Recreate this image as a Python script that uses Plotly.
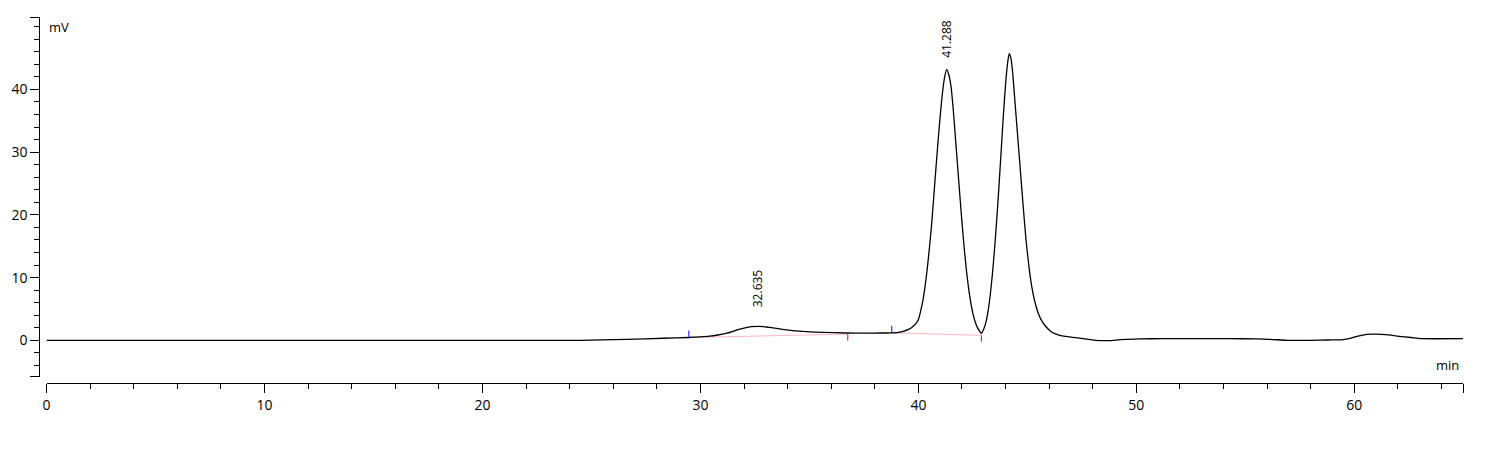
import plotly.graph_objects as go

# ---- chromatogram trace (time in min, signal in mV) ----
time_min = [0.0, 24.5, 26.6, 28.3, 29.47, 30.0, 30.42, 30.8, 31.17, 31.5, 31.77, 32.05,
            32.33, 32.64, 32.9, 33.17, 33.5, 33.77, 34.24, 34.85, 35.62, 36.67, 37.5,
            38.3, 38.78, 39.1, 39.34, 39.55, 39.7, 39.8, 39.9, 40.0, 40.1, 40.2, 40.3,
            40.4, 40.5, 40.6, 40.7, 40.8, 40.9, 41.0, 41.1, 41.2, 41.3, 41.4, 41.5,
            41.6, 41.7, 41.8, 41.9, 42.0, 42.1, 42.2, 42.3, 42.4, 42.5, 42.6, 42.7,
            42.8, 42.89, 43.0, 43.1, 43.2, 43.3, 43.4, 43.5, 43.6, 43.7, 43.8, 43.9,
            44.0, 44.1, 44.17, 44.25, 44.33, 44.45, 44.57, 44.69, 44.81, 44.94, 45.0,
            45.1, 45.2, 45.3, 45.4, 45.5, 45.6, 45.7, 45.8, 45.9, 46.0, 46.15, 46.35,
            46.6, 47.0, 47.4, 48.13, 48.8, 49.25, 50.2, 51.2, 52.7, 54.25, 55.5, 56.1,
            57.0, 58.0, 58.8, 59.5, 59.8, 60.12, 60.58, 61.0, 61.43, 62.05, 62.6, 63.1,
            65.0]
signal_mv = [0.0, 0.0, 0.15, 0.33, 0.45, 0.55, 0.66, 0.85, 1.1, 1.42, 1.75, 2.0,
             2.17, 2.22, 2.17, 2.05, 1.9, 1.75, 1.54, 1.38, 1.27, 1.17, 1.16,
             1.17, 1.2, 1.28, 1.48, 1.75, 2.05, 2.35, 2.75, 3.3, 4.6, 6.2, 8.4,
             11.2, 14.5, 18.2, 22.6, 27.2, 31.6, 35.7, 39.3, 41.9, 43.2, 42.3, 40.4,
             36.8, 32.3, 27.8, 23.2, 18.8, 14.8, 11.3, 8.4, 6.1, 4.3, 3.0, 2.1,
             1.5, 1.1, 1.8, 2.9, 4.7, 7.3, 10.7, 14.8, 19.5, 24.7, 30.3, 35.9,
             40.8, 44.4, 45.7, 44.9, 42.5, 37.2, 31.9, 26.6, 21.3, 15.95, 14.0,
             11.0, 8.6, 6.8, 5.4, 4.3, 3.5, 2.9, 2.4, 2.0, 1.65, 1.25, 0.95,
             0.7, 0.5, 0.35, 0.0, -0.05, 0.1, 0.22, 0.27, 0.27, 0.27, 0.22, 0.16,
             -0.02, 0.0, 0.05, 0.1, 0.3, 0.64, 0.96, 0.98, 0.9, 0.64, 0.45, 0.27,
             0.27]

# ---- integration: peak labels and baseline segments ----
peak_rt = [32.635, 41.288]
peak_label = ["32.635", "41.288"]
peak_height = [2.22, 43.2]
label_shift_px = [38, 31]

base_start_t = [29.47, 38.78]
base_start_v = [0.45, 1.2]
base_end_t = [36.76, 42.89]
base_end_v = [0.99, 0.8]

# ---- axes ----
x_tickvals = [0, 10, 20, 30, 40, 50, 60, 65]
x_ticktext = ["0", "10", "20", "30", "40", "50", "60", ""]
y_tickvals = [-5.8, 0, 10, 20, 30, 40, 51.5]
y_ticktext = ["", "0", "10", "20", "30", "40", ""]

FONT = "Open Sans"
TXT = "#000000"
OFF = 8  # default page body margin
W, H = 1487 - 2 * OFF, 455 - 2 * OFF
ML, MR, MT, MB = 12, 6, 2, 42
PW, PH = W - ML - MR, H - MT - MB


def px_x(p):
    return (p - OFF - ML) / PW


def px_y(p):
    return (H - MB - (p - OFF)) / PH


fig = go.Figure()

# baselines (pink)
for i in range(len(base_start_t)):
    fig.add_trace(go.Scatter(x=[base_start_t[i], base_end_t[i]],
                             y=[base_start_v[i], base_end_v[i]],
                             mode="lines", line=dict(color="#ffb6c1", width=1),
                             hoverinfo="skip", showlegend=False))

fig.add_trace(go.Scatter(x=time_min, y=signal_mv, mode="lines",
                         line=dict(color="black", width=1.3, shape="spline", smoothing=0.5),
                         showlegend=False))

shapes = []
for t, v in zip(base_start_t, base_start_v):
    shapes.append(dict(type="line", xref="x", yref="y", ysizemode="pixel", yanchor=v,
                       x0=t, x1=t, y0=0, y1=7, line=dict(color="blue", width=1)))
for t, v in zip(base_end_t, base_end_v):
    shapes.append(dict(type="line", xref="x", yref="y", ysizemode="pixel", yanchor=v,
                       x0=t, x1=t, y0=0, y1=-6.5, line=dict(color="red", width=1)))

annotations = []
for rt, lab, h, s in zip(peak_rt, peak_label, peak_height, label_shift_px):
    annotations.append(dict(x=rt, y=h, xref="x", yref="y", text=lab, showarrow=False,
                            textangle=-90, xanchor="center", yanchor="middle", yshift=s,
                            font=dict(family=FONT, size=12, color=TXT)))
annotations.append(dict(x=px_x(47), y=px_y(27), xref="paper", yref="paper", text="mV",
                        showarrow=False, xanchor="left", yanchor="middle",
                        font=dict(family=FONT, size=13, color=TXT)))
annotations.append(dict(x=px_x(1461), y=px_y(365), xref="paper", yref="paper", text="min",
                        showarrow=False, xanchor="right", yanchor="middle",
                        font=dict(family=FONT, size=13, color=TXT)))

fig.update_layout(
    width=W, height=H,
    margin=dict(l=ML, r=MR, t=MT, b=MB, autoexpand=False),
    paper_bgcolor="white", plot_bgcolor="white",
    showlegend=False,
    shapes=shapes, annotations=annotations,
    xaxis=dict(range=[0, 65], domain=[px_x(46.5), px_x(1463.3)], anchor="free",
               position=px_y(383.3), automargin=False,
               showline=True, linecolor="black", linewidth=1,
               showgrid=False, zeroline=False, ticks="outside", ticklen=9, tickwidth=1,
               tickcolor="black", tickmode="array", tickvals=x_tickvals, ticktext=x_ticktext,
               tickfont=dict(family=FONT, size=14, color=TXT),
               minor=dict(ticks="outside", ticklen=5, tickwidth=1, tickcolor="black",
                          dtick=2, tick0=0, showgrid=False)),
    yaxis=dict(range=[-5.8, 51.5], domain=[px_y(376.7), px_y(17.3)], anchor="free",
               position=px_x(39.3), automargin=False,
               showline=True, linecolor="black", linewidth=1,
               showgrid=False, zeroline=False, ticks="outside", ticklen=9, tickwidth=1,
               tickcolor="black", tickmode="array", tickvals=y_tickvals, ticktext=y_ticktext,
               tickfont=dict(family=FONT, size=14, color=TXT),
               minor=dict(ticks="outside", ticklen=5, tickwidth=1, tickcolor="black",
                          dtick=2, tick0=0, showgrid=False)),
)

fig.write_html("out.html")
